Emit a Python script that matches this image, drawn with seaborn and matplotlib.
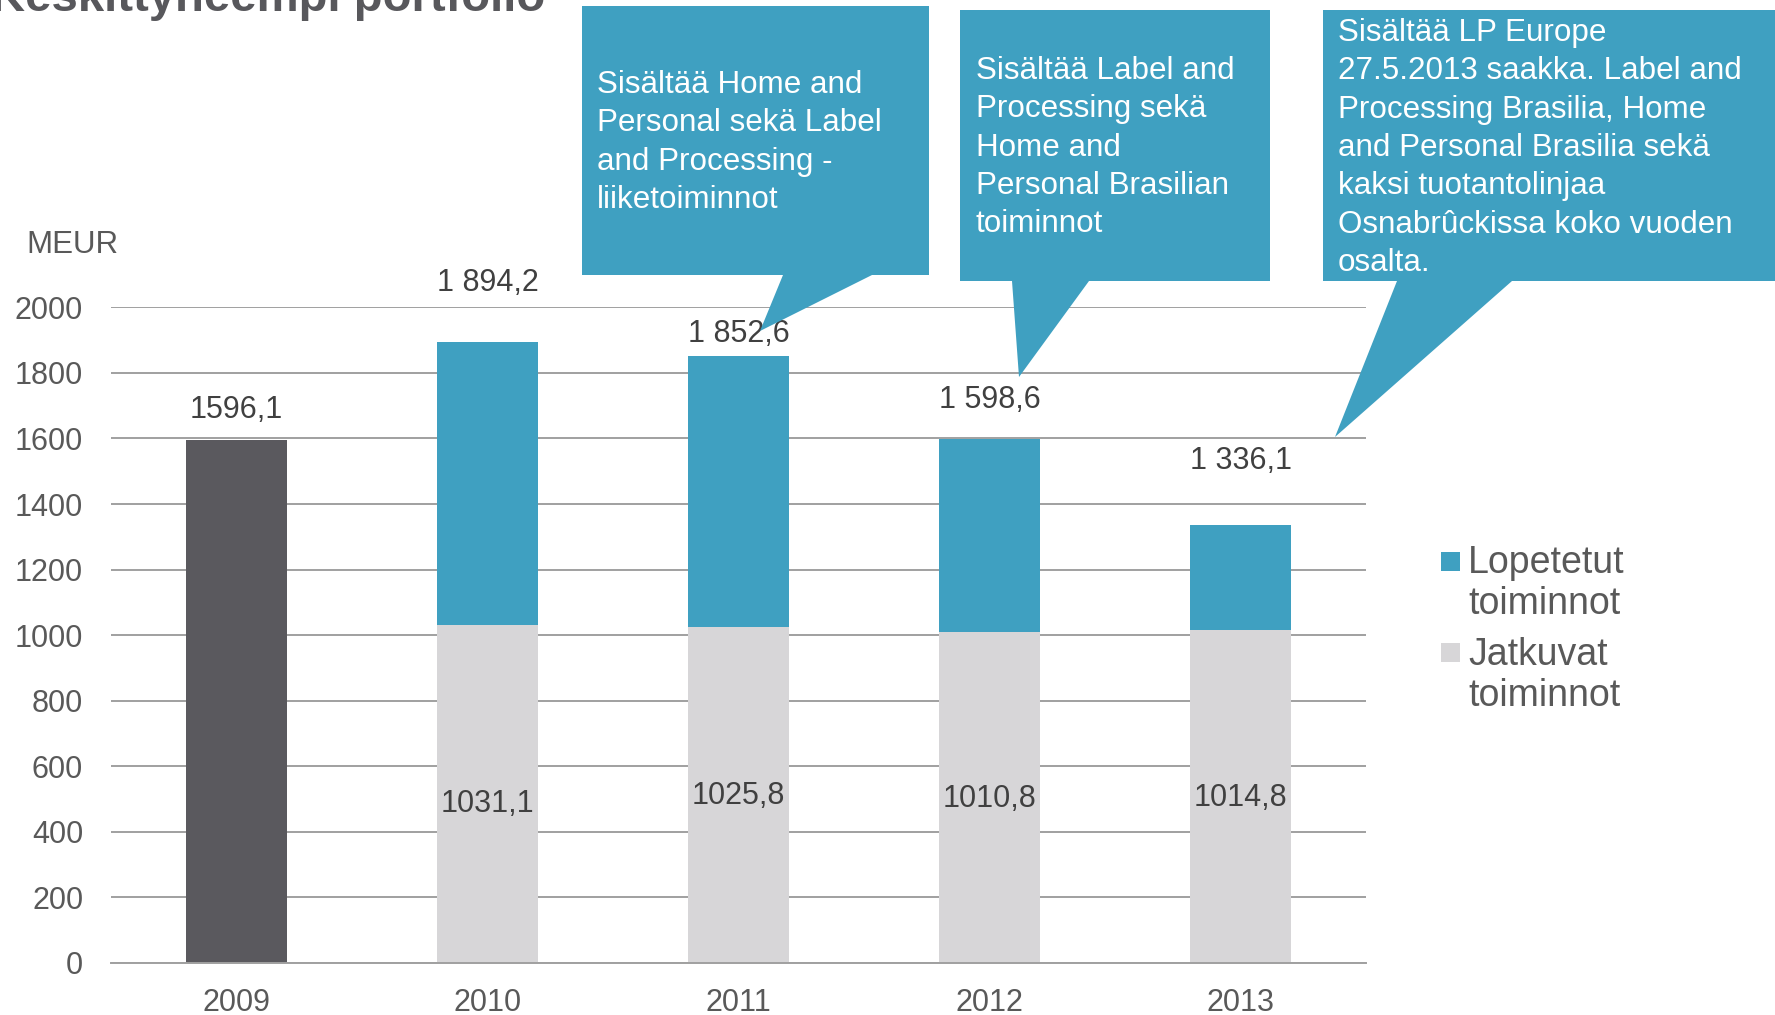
import matplotlib
matplotlib.use('Agg')
import matplotlib.pyplot as plt
from matplotlib.patches import Polygon, Rectangle
from matplotlib.ticker import FixedLocator
import seaborn as sns
import pandas as pd

# data
years = ['2009', '2010', '2011', '2012', '2013']
totals = [1596.1, 1894.2, 1852.6, 1598.6, 1336.1]
continuing_years = ['2010', '2011', '2012', '2013']
continuing = [1031.1, 1025.8, 1010.8, 1014.8]
total_labels = ['1596,1', '1 894,2', '1 852,6', '1 598,6', '1 336,1']
continuing_labels = ['1031,1', '1025,8', '1010,8', '1014,8']
yticks = [0, 200, 400, 600, 800, 1000, 1200, 1400, 1600, 1800, 2000]
legend_labels = ['Lopetetut\ntoiminnot', 'Jatkuvat\ntoiminnot']
callouts = [
    'Sisältää Home and\nPersonal sekä Label\nand Processing -\nliiketoiminnot',
    'Sisältää Label and\nProcessing sekä\nHome and\nPersonal Brasilian\ntoiminnot',
    'Sisältää LP Europe\n27.5.2013 saakka. Label and\nProcessing Brasilia, Home\nand Personal Brasilia sekä\nkaksi tuotantolinjaa\nOsnabrûckissa koko vuoden\nosalta.',
]
title = 'Keskittyneempi portfolio'

# label placement (data units above bar top / y for inner labels)
total_offsets = [90, 179, 65, 118, 194]
inner_y = [485, 509, 500, 503]

BLUE = '#3FA0C1'
DARK = '#5A595E'
LIGHT = '#D7D6D8'
TXT = '#595959'

sns.set_style('white')
plt.rcParams['font.family'] = ['Liberation Sans', 'DejaVu Sans']

W, H = 1775, 1015
fig = plt.figure(figsize=(W / 100, H / 100), dpi=100)
ax = fig.add_axes([111 / W, 1 - 963 / H, (1366 - 111) / W, (963 - 307) / H])

df_tot = pd.DataFrame({'vuosi': years, 'arvo': totals})
df_cont = pd.DataFrame({'vuosi': continuing_years, 'arvo': continuing})
sns.barplot(data=df_tot, x='vuosi', y='arvo', hue='vuosi', order=years,
            palette=[DARK, BLUE, BLUE, BLUE, BLUE], legend=False,
            width=0.4, saturation=1, linewidth=0, edgecolor='none', ax=ax, zorder=3)
sns.barplot(data=df_cont, x='vuosi', y='arvo', order=years, color=LIGHT,
            width=0.4, saturation=1, linewidth=0, edgecolor='none', ax=ax, zorder=3)

ax.set_xlim(-0.5, 4.5)
ax.set_ylim(0, 2001)
ax.set_xlabel('')
ax.set_ylabel('')
ax.set_yticks(yticks)
ax.yaxis.grid(True, color='#A0A0A0', linewidth=1.4, zorder=0)
ax.xaxis.grid(False)
for s in ['top', 'right', 'left']:
    ax.spines[s].set_visible(False)
ax.spines['bottom'].set_color('#A0A0A0')
ax.spines['bottom'].set_linewidth(1.4)
ax.spines['bottom'].set_zorder(4)
ax.tick_params(axis='y', length=0, pad=20, labelsize=22, labelcolor=TXT)
ax.tick_params(axis='x', which='major', length=0, pad=18, labelsize=22, labelcolor=TXT)
ax.xaxis.set_minor_locator(FixedLocator([i - 0.5 for i in range(len(years) + 1)]))
ax.tick_params(axis='x', which='minor', length=5, width=1.4, color='#A0A0A0', direction='out')

for i, (t, lab) in enumerate(zip(totals, total_labels)):
    ax.text(i, t + total_offsets[i], lab, ha='center', va='center', fontsize=22, color='#404040')
for j, lab in enumerate(continuing_labels):
    ax.text(j + 1, inner_y[j], lab, ha='center', va='center', fontsize=22, color='#404040')

fig.text(72 / W, 1 - 245 / H, 'MEUR', ha='center', va='center', fontsize=22.5, color=TXT)
fig.text(545 / W, 1 - 11 / H, title, ha='right', va='baseline', fontsize=34,
         fontweight='bold', color='#58585C')

# overlay for callouts and legend, in pixel coordinates
ov = fig.add_axes([0, 0, 1, 1], zorder=5)
ov.set_xlim(0, W)
ov.set_ylim(H, 0)
ov.axis('off')
ov.patch.set_alpha(0)

shapes = [
    [(582, 6), (929, 6), (929, 275), (872, 275), (760, 331), (783, 275), (582, 275)],
    [(960, 10), (1270, 10), (1270, 281), (1089, 281), (1019, 377), (1012, 281), (960, 281)],
    [(1323, 10), (1776, 10), (1776, 281), (1512, 281), (1335, 437), (1397, 281), (1323, 281)],
]
text_starts = [(597, 93), (976, 79), (1338, 41)]
for shp, txt, (tx, ty) in zip(shapes, callouts, text_starts):
    ov.add_patch(Polygon(shp, closed=True, facecolor=BLUE, edgecolor='none'))
    for k, line in enumerate(txt.split('\n')):
        ov.text(tx, ty + k * 38.3, line, ha='left', va='baseline', fontsize=22.6, color='white')

# legend
for (lab, col, sq_y, base_y) in zip(legend_labels, [BLUE, LIGHT], [552, 643], [573, 665]):
    ov.add_patch(Rectangle((1441, sq_y), 19, 19, facecolor=col, edgecolor='none'))
    for k, line in enumerate(lab.split('\n')):
        ov.text(1468, base_y + k * 41, line, ha='left', va='baseline', fontsize=27, color=TXT)

fig.savefig('out.png', dpi=100)
